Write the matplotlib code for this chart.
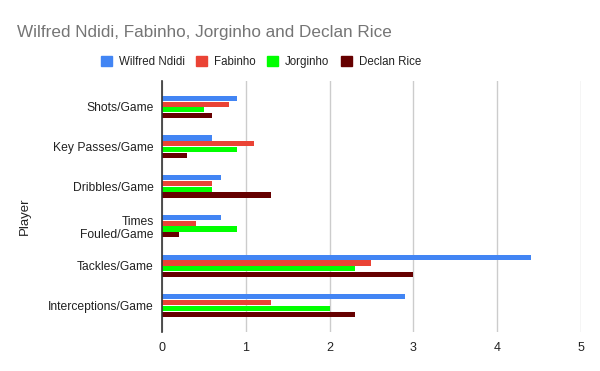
import matplotlib
matplotlib.use("Agg")
import matplotlib.pyplot as plt
import numpy as np
from matplotlib.patches import Patch

# Per-game stats for the four midfielders.
categories = ["Shots/Game", "Key Passes/Game", "Dribbles/Game",
              "Times\nFouled/Game", "Tackles/Game", "Interceptions/Game"]
players = ["Wilfred Ndidi", "Fabinho", "Jorginho", "Declan Rice"]
ndidi = [0.9, 0.6, 0.7, 0.7, 4.4, 2.9]
fabinho = [0.8, 1.1, 0.6, 0.4, 2.5, 1.3]
jorginho = [0.5, 0.9, 0.6, 0.9, 2.3, 2.0]
rice = [0.6, 0.3, 1.3, 0.2, 3.0, 2.3]
colors = ["#4285f4", "#ea4335", "#00ff00", "#660000"]


def main():
    plt.rcParams["font.family"] = ["Liberation Sans", "DejaVu Sans"]
    fig = plt.figure(figsize=(6.0, 3.71), dpi=100)
    ax = fig.add_axes([0.27, 0.1051, 0.6983, 0.6766])

    y = np.arange(len(categories))
    step = 0.145
    height = 0.13
    series = [ndidi, fabinho, jorginho, rice]
    for i, (vals, color) in enumerate(zip(series, colors)):
        ax.barh(y + (i - 1.5) * step, vals, height=height, color=color,
                zorder=3)

    ax.set_xlim(0, 5)
    ax.set_ylim(5.667, -0.655)
    ax.set_xticks(range(6))
    ax.set_yticks(y)
    ax.set_yticklabels(categories, fontsize=8.75, color="#222222")
    ax.tick_params(axis="x", labelsize=9, colors="#222222", length=0, pad=7)
    ax.tick_params(axis="y", length=0, pad=6)
    ax.grid(axis="x", color="#cccccc", linewidth=1, zorder=0)
    for side in ("top", "right", "bottom"):
        ax.spines[side].set_visible(False)
    ax.spines["left"].set_color("#333333")
    ax.spines["left"].set_linewidth(1.2)
    ax.spines["left"].set_zorder(4)

    ax.set_ylabel("Player", fontsize=9.5, color="#222222")
    ax.yaxis.set_label_coords(-0.313, 0.462)

    fig.text(17 / 600, 1 - 32 / 371, "Wilfred Ndidi, Fabinho, Jorginho and Declan Rice",
             fontsize=12.3, color="#757575", va="center", ha="left")

    handles = [Patch(facecolor=c, edgecolor=c) for c in colors]
    fig.legend(handles, players, loc="center", ncol=4,
               bbox_to_anchor=(261 / 600, 1 - 62 / 371), frameon=False,
               fontsize=8.3, handlelength=0.95, handleheight=0.95,
               handletextpad=0.6, columnspacing=1.0, labelcolor="#222222")

    fig.savefig("out.png", dpi=100)
    plt.close(fig)


if __name__ == "__main__":
    main()
